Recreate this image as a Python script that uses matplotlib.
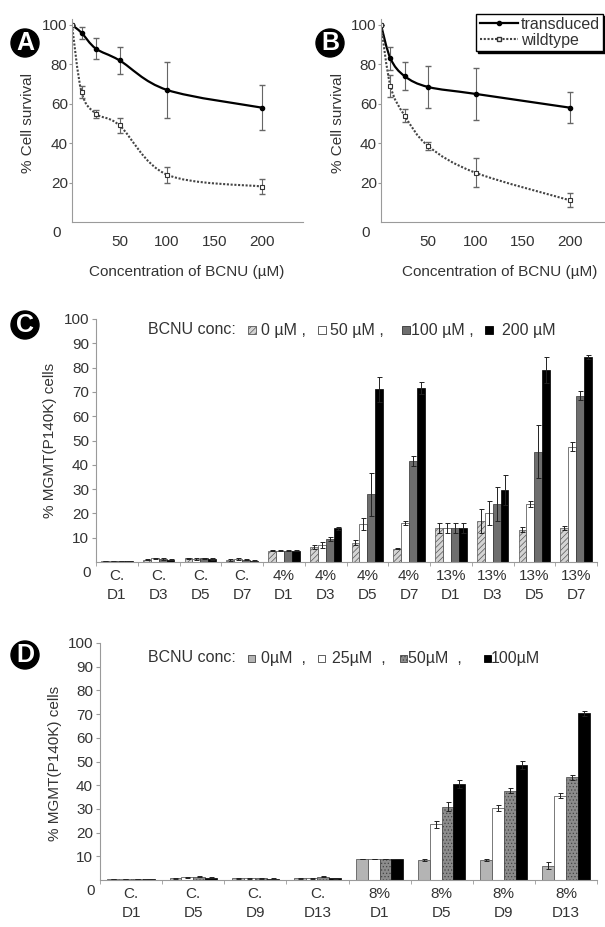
import numpy as np
import matplotlib
matplotlib.use("Agg")
import matplotlib.pyplot as plt
from matplotlib.path import Path
from matplotlib.patches import PathPatch, Rectangle
from matplotlib.lines import Line2D
from matplotlib.transforms import IdentityTransform

plt.rcParams["font.family"] = ["Liberation Sans", "DejaVu Sans"]
plt.rcParams["font.size"] = 11
plt.rcParams["text.color"] = "#333333"
plt.rcParams["axes.edgecolor"] = "#9a9a9a"
plt.rcParams["xtick.color"] = "#9a9a9a"
plt.rcParams["ytick.color"] = "#9a9a9a"
plt.rcParams["xtick.labelcolor"] = "#333333"
plt.rcParams["ytick.labelcolor"] = "#333333"
plt.rcParams["hatch.linewidth"] = 0.5

# survival curves (panels A, B)
conc = [0, 10, 25, 50, 100, 200]
a_trans = [100, 96, 88, 82, 67, 58]
a_trans_err = [0, 3, 5.5, 7, 14, 11.5]
a_wild = [100, 66, 55, 49, 24, 18]
a_wild_err = [0, 3, 2, 4, 4, 4]
b_trans = [100, 83, 74, 68.5, 65, 58]
b_trans_err = [0, 6, 7, 10.5, 13, 8]
b_wild = [100, 69, 54, 38.5, 25, 11]
b_wild_err = [0, 5.5, 3.5, 2, 7.3, 3.5]

# panel C
c_groups = ["C.\nD1", "C.\nD3", "C.\nD5", "C.\nD7", "4%\nD1", "4%\nD3", "4%\nD5", "4%\nD7",
            "13%\nD1", "13%\nD3", "13%\nD5", "13%\nD7"]
c_labels = ["0 \u00b5M ,", "50 \u00b5M ,", "100 \u00b5M ,", "200 \u00b5M"]
c_0 = [0.3, 1.0, 1.5, 0.8, 4.7, 6.0, 7.9, 5.5, 13.9, 17.0, 13.2, 13.9]
c_50 = [0.3, 1.5, 1.2, 1.3, 4.7, 7.0, 15.6, 15.9, 13.9, 20.3, 23.7, 47.4]
c_100 = [0.3, 1.2, 1.5, 1.0, 4.7, 9.3, 27.8, 41.7, 13.9, 24.0, 45.4, 68.5]
c_200 = [0.3, 1.0, 1.2, 0.5, 4.7, 13.8, 71.0, 71.5, 13.9, 29.6, 79.0, 84.5]
c_0_err = [0, 0.3, 0.3, 0.3, 0.3, 0.8, 1.0, 0.3, 2.0, 5.0, 1.0, 0.8]
c_50_err = [0, 0.3, 0.3, 0.3, 0.3, 1.2, 2.5, 0.8, 2.0, 5.0, 1.2, 1.8]
c_100_err = [0, 0.3, 0.3, 0.3, 0.3, 0.8, 9.0, 2.0, 2.0, 7.0, 11.0, 1.8]
c_200_err = [0, 0.3, 0.3, 0.3, 0.3, 0.6, 5.0, 2.5, 2.0, 6.0, 5.5, 0.8]

# panel D
d_groups = ["C.\nD1", "C.\nD5", "C.\nD9", "C.\nD13", "8%\nD1", "8%\nD5", "8%\nD9", "8%\nD13"]
d_labels = ["0\u00b5M  ,", "25\u00b5M  ,", "50\u00b5M  ,", "100\u00b5M"]
d_0 = [0.3, 0.8, 0.8, 0.8, 8.8, 8.4, 8.4, 6.0]
d_25 = [0.3, 1.2, 0.8, 0.8, 8.8, 23.6, 30.4, 35.6]
d_50 = [0.3, 1.3, 0.8, 1.3, 8.8, 31.0, 37.7, 43.3]
d_100 = [0.3, 1.0, 0.5, 0.8, 8.8, 40.5, 48.6, 70.3]
d_0_err = [0, 0.2, 0.2, 0.2, 0, 0.4, 0.5, 1.5]
d_25_err = [0, 0.2, 0.2, 0.2, 0, 1.5, 1.2, 1.2]
d_50_err = [0, 0.2, 0.2, 0.2, 0, 1.8, 1.2, 1.2]
d_100_err = [0, 0.2, 0.2, 0.2, 0, 1.8, 1.6, 1.0]

W, H = 605, 927
fig = plt.figure(figsize=(W / 100, H / 100), dpi=100)


def px_axes(left, top, right, bottom):
    return fig.add_axes([left / W, 1 - bottom / H, (right - left) / W, (bottom - top) / H])


def smooth_line(ax, x, y, **kw):
    # Excel-like smoothed line: Catmull-Rom through the points, drawn as bezier
    pts = ax.transData.transform(np.column_stack([x, y]))
    verts, codes = [pts[0]], [Path.MOVETO]
    n = len(pts)
    for i in range(n - 1):
        p0, p1, p2, p3 = pts[max(i - 1, 0)], pts[i], pts[i + 1], pts[min(i + 2, n - 1)]
        verts += [p1 + (p2 - p0) / 6, p2 - (p3 - p1) / 6, p2]
        codes += [Path.CURVE4] * 3
    ax.add_patch(PathPatch(Path(verts, codes), transform=IdentityTransform(), fill=False, **kw))


def badge(x, y, letter):
    fig.text(x / W, 1 - y / H, letter, ha="center", va="center", color="white", fontsize=18,
             fontweight="bold", bbox=dict(boxstyle="circle,pad=0.08", fc="black", ec="black"))


def style_axes(ax, dx=-8):
    for s in ["top", "right"]:
        ax.spines[s].set_visible(False)
    ax.annotate("0", xy=(0, 0), xycoords="axes fraction", xytext=(dx, -8), textcoords="offset points",
                ha="right", va="center", fontsize=11)


def survival_panel(ax, trans, trans_err, wild, wild_err, xmax):
    ax.set_xlim(0, xmax)
    ax.set_ylim(0, 103)
    style_axes(ax)
    ax.set_xticks([50, 100, 150, 200])
    ax.set_yticks([20, 40, 60, 80, 100])
    ax.tick_params(axis="x", length=0, pad=9)
    ax.tick_params(axis="y", length=2, pad=1)
    smooth_line(ax, conc, trans, color="black", lw=1.6)
    smooth_line(ax, conc, wild, color="#444444", lw=1.5, linestyle=(0, (1, 0.8)))
    ax.errorbar(conc, trans, yerr=trans_err, fmt="none", ecolor="#666666", elinewidth=0.8, capsize=2)
    ax.errorbar(conc, wild, yerr=wild_err, fmt="none", ecolor="#666666", elinewidth=0.8, capsize=2)
    ax.plot(conc, trans, "o", ms=3, color="black")
    ax.plot(conc, wild, "s", ms=3.5, mfc="white", mec="#333333", mew=0.8)


axA = px_axes(72, 19, 303, 222)
survival_panel(axA, a_trans, a_trans_err, a_wild, a_wild_err, 243)
axB = px_axes(381, 19, 605, 222)
survival_panel(axB, b_trans, b_trans_err, b_wild, b_wild_err, 237)

for cx in [28, 338]:
    fig.text(cx / W, 1 - 123 / H, "% Cell survival", rotation=90, ha="center", va="center")
for cx in [187, 500]:
    fig.text(cx / W, 1 - 272 / H, "Concentration of BCNU (\u00b5M)", ha="center", va="center")

leg_handles = [
    Line2D([], [], color="black", lw=1.6, marker="o", ms=3),
    Line2D([], [], color="#444444", lw=1.5, linestyle=(0, (1, 0.8)), marker="s", ms=3.5,
           mfc="white", mec="#333333"),
]
fig.legend(leg_handles, ["transduced", "wildtype"], loc="upper right", bbox_to_anchor=(1.0, 1 - 12 / H),
           fancybox=False, edgecolor="black", framealpha=1, handlelength=2.4, handletextpad=0.2,
           borderpad=0.2, labelspacing=0.05, borderaxespad=0.1, fontsize=11.5,
           shadow={"ox": 1.5, "oy": -1.5, "shade": 1.0, "alpha": 1})


def bar_panel(ax, groups, series, errs, styles):
    n = len(groups)
    x = np.arange(n)
    w = 0.19
    for k, (vals, err, st) in enumerate(zip(series, errs, styles)):
        ax.bar(x + (k - 1.5) * w, vals, w, yerr=err, lw=0.5, capsize=1.8,
               error_kw=dict(elinewidth=0.7, ecolor="#222222", capthick=0.7), **st)
    ax.set_xlim(-0.5, n - 0.5)
    ax.set_ylim(0, 100)
    style_axes(ax, dx=-4)
    ax.set_yticks(range(10, 101, 10))
    ax.tick_params(axis="y", length=3, pad=2)
    ax.set_xticks(x)
    ax.set_xticklabels(groups, linespacing=1.45)
    ax.tick_params(axis="x", length=0, pad=5)
    ax.set_xticks(np.arange(n + 1) - 0.5, minor=True)
    ax.tick_params(axis="x", which="minor", length=3)


def bar_key(y, box_x, text_x, size, styles, labels):
    fig.text(148 / W, 1 - y / H, "BCNU conc:", ha="left", va="center", fontsize=11.5)
    for bx, tx, st, lab in zip(box_x, text_x, styles, labels):
        fig.patches.append(Rectangle((bx / W, 1 - (y + size / 2) / H), size / W, size / H,
                                     transform=fig.transFigure, lw=0.6, **st))
        fig.text(tx / W, 1 - y / H, lab, ha="left", va="center", fontsize=11.5)


c_styles = [
    dict(facecolor="#d4d4d4", edgecolor="#555555", hatch="//////"),
    dict(facecolor="white", edgecolor="#444444"),
    dict(facecolor="#6e6e6e", edgecolor="#333333"),
    dict(facecolor="black", edgecolor="black"),
]
axC = px_axes(96, 319, 597, 562)
bar_panel(axC, c_groups, [c_0, c_50, c_100, c_200], [c_0_err, c_50_err, c_100_err, c_200_err], c_styles)
fig.text(50 / W, 1 - 440 / H, "% MGMT(P140K) cells", rotation=90, ha="center", va="center")
bar_key(330, [248, 318, 402, 485], [261, 330, 411, 502], 8, c_styles, c_labels)

d_styles = [
    dict(facecolor="#b4b4b4", edgecolor="#444444"),
    dict(facecolor="white", edgecolor="#444444"),
    dict(facecolor="#8c8c8c", edgecolor="#444444", hatch="....."),
    dict(facecolor="black", edgecolor="black"),
]
axD = px_axes(100, 643, 597, 880)
bar_panel(axD, d_groups, [d_0, d_25, d_50, d_100], [d_0_err, d_25_err, d_50_err, d_100_err], d_styles)
fig.text(55 / W, 1 - 763 / H, "% MGMT(P140K) cells", rotation=90, ha="center", va="center")
bar_key(658, [248, 318, 400, 484], [261, 332, 408, 491], 7, d_styles, d_labels)

badge(25, 43, "A")
badge(330, 43, "B")
badge(25, 325, "C")
badge(25, 655, "D")

fig.savefig("out.png", dpi=100)
